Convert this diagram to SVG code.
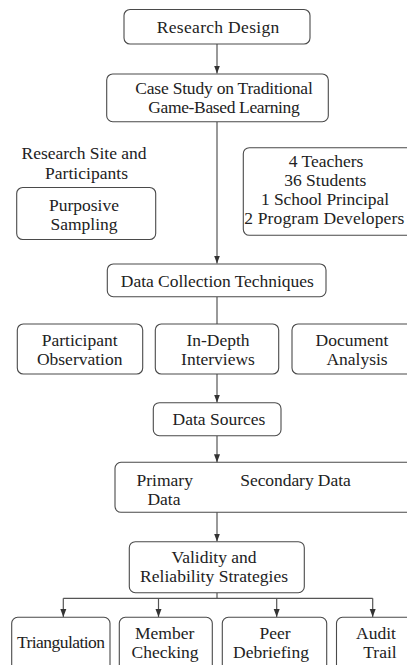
<svg xmlns="http://www.w3.org/2000/svg" width="407" height="665" viewBox="0 0 407 665">
  <style>
    .box { fill: #ffffff; stroke: #4a4a4a; stroke-width: 1.1; }
    .lbl { font-family: "Liberation Serif", "Times New Roman", serif; font-size: 17.5px; fill: #222222; text-anchor: middle; }
    .wire { fill: none; stroke: #555555; stroke-width: 1.2; }
  </style>
  <defs>
    <marker id="arrow" viewBox="0 0 8 8" refX="8" refY="4" markerWidth="8" markerHeight="8" markerUnits="userSpaceOnUse" orient="auto">
      <path d="M0,1 L8,4 L0,7 Z" fill="#333333"/>
    </marker>
  </defs>
  <rect width="407" height="665" fill="#ffffff"/>

  <g id="connectors">
    <line class="wire" x1="217" y1="44" x2="217" y2="73.5" marker-end="url(#arrow)"/>
    <line class="wire" x1="217" y1="122" x2="217" y2="263.5" marker-end="url(#arrow)"/>
    <line class="wire" x1="217" y1="297" x2="217" y2="324"/>
    <line class="wire" x1="217" y1="374" x2="217" y2="402.5" marker-end="url(#arrow)"/>
    <line class="wire" x1="217" y1="436" x2="217" y2="462.3" marker-end="url(#arrow)"/>
    <line class="wire" x1="217" y1="462.3" x2="217" y2="541.5" marker-end="url(#arrow)"/>
    <line class="wire" x1="217" y1="592.7" x2="217" y2="598.3"/>
    <line class="wire" x1="63.3" y1="598.3" x2="372.7" y2="598.3"/>
    <line class="wire" x1="63.3" y1="598.3" x2="63.3" y2="617" marker-end="url(#arrow)"/>
    <line class="wire" x1="158.5" y1="598.3" x2="158.5" y2="617" marker-end="url(#arrow)"/>
    <line class="wire" x1="276.7" y1="598.3" x2="276.7" y2="617" marker-end="url(#arrow)"/>
    <line class="wire" x1="372.7" y1="598.3" x2="372.7" y2="617" marker-end="url(#arrow)"/>
  </g>

  <g id="research-design">
    <rect class="box" x="124" y="9.5" width="186" height="34.5" rx="6"/>
    <text class="lbl" x="218" y="32.7" textLength="122.5">Research Design</text>
  </g>

  <g id="case-study">
    <rect class="box" x="106.7" y="74" width="221.6" height="47.7" rx="6"/>
    <text class="lbl" x="224" y="94.3" textLength="177.5">Case Study on Traditional</text>
    <text class="lbl" x="224" y="113.3" textLength="151.5">Game-Based Learning</text>
  </g>

  <g id="research-site">
    <text class="lbl" x="84" y="159.3" textLength="125">Research Site and</text>
    <text class="lbl" x="86.5" y="178.7" textLength="83">Participants</text>
  </g>

  <g id="purposive-sampling">
    <rect class="box" x="16.7" y="187.5" width="139" height="52" rx="6"/>
    <text class="lbl" x="84" y="210.5">Purposive</text>
    <text class="lbl" x="84" y="230">Sampling</text>
  </g>

  <g id="participants">
    <rect class="box" x="243.3" y="147.7" width="170" height="87.6" rx="6"/>
    <text class="lbl" x="326" y="166.5">4 Teachers</text>
    <text class="lbl" x="325.3" y="185.5">36 Students</text>
    <text class="lbl" x="325" y="204.5" textLength="128">1 School Principal</text>
    <text class="lbl" x="324.3" y="223.5" textLength="160">2 Program Developers</text>
  </g>

  <g id="data-collection">
    <rect class="box" x="107.3" y="264" width="218.7" height="32.7" rx="6"/>
    <text class="lbl" x="217.3" y="286.7" textLength="193">Data Collection Techniques</text>
  </g>

  <g id="participant-observation">
    <rect class="box" x="17.3" y="324" width="125.4" height="50" rx="6"/>
    <text class="lbl" x="79.7" y="345.5">Participant</text>
    <text class="lbl" x="79.7" y="364.5">Observation</text>
  </g>

  <g id="in-depth-interviews">
    <rect class="box" x="155.3" y="324" width="123.4" height="50" rx="6"/>
    <text class="lbl" x="218" y="345.5">In-Depth</text>
    <text class="lbl" x="218" y="364.5">Interviews</text>
  </g>

  <g id="document-analysis">
    <rect class="box" x="292" y="324" width="125" height="50" rx="6"/>
    <text class="lbl" x="352" y="345.5">Document</text>
    <text class="lbl" x="357" y="364.5">Analysis</text>
  </g>

  <g id="data-sources">
    <rect class="box" x="153.3" y="402.7" width="127.7" height="33" rx="6"/>
    <text class="lbl" x="219" y="424.5">Data Sources</text>
  </g>

  <g id="data-types">
    <rect class="box" x="115" y="462.3" width="300" height="50" rx="6"/>
    <text class="lbl" x="164.7" y="485.5">Primary</text>
    <text class="lbl" x="164" y="505">Data</text>
    <text class="lbl" x="295.5" y="485.5" textLength="110.5">Secondary Data</text>
  </g>

  <g id="validity">
    <rect class="box" x="129.3" y="541.7" width="175" height="51" rx="6"/>
    <text class="lbl" x="214" y="562.5">Validity and</text>
    <text class="lbl" x="214" y="581.5" textLength="148">Reliability Strategies</text>
  </g>

  <g id="triangulation">
    <rect class="box" x="11.7" y="617.3" width="98.3" height="60" rx="6"/>
    <text class="lbl" x="61" y="647.5" textLength="88">Triangulation</text>
  </g>

  <g id="member-checking">
    <rect class="box" x="119.3" y="617.3" width="93" height="60" rx="6"/>
    <text class="lbl" x="164.7" y="639">Member</text>
    <text class="lbl" x="165" y="658">Checking</text>
  </g>

  <g id="peer-debriefing">
    <rect class="box" x="222.3" y="617.3" width="104.4" height="60" rx="6"/>
    <text class="lbl" x="275" y="639">Peer</text>
    <text class="lbl" x="271" y="658">Debriefing</text>
  </g>

  <g id="audit-trail">
    <rect class="box" x="336.5" y="617.3" width="80" height="60" rx="6"/>
    <text class="lbl" x="376" y="639">Audit</text>
    <text class="lbl" x="380" y="658">Trail</text>
  </g>
</svg>
